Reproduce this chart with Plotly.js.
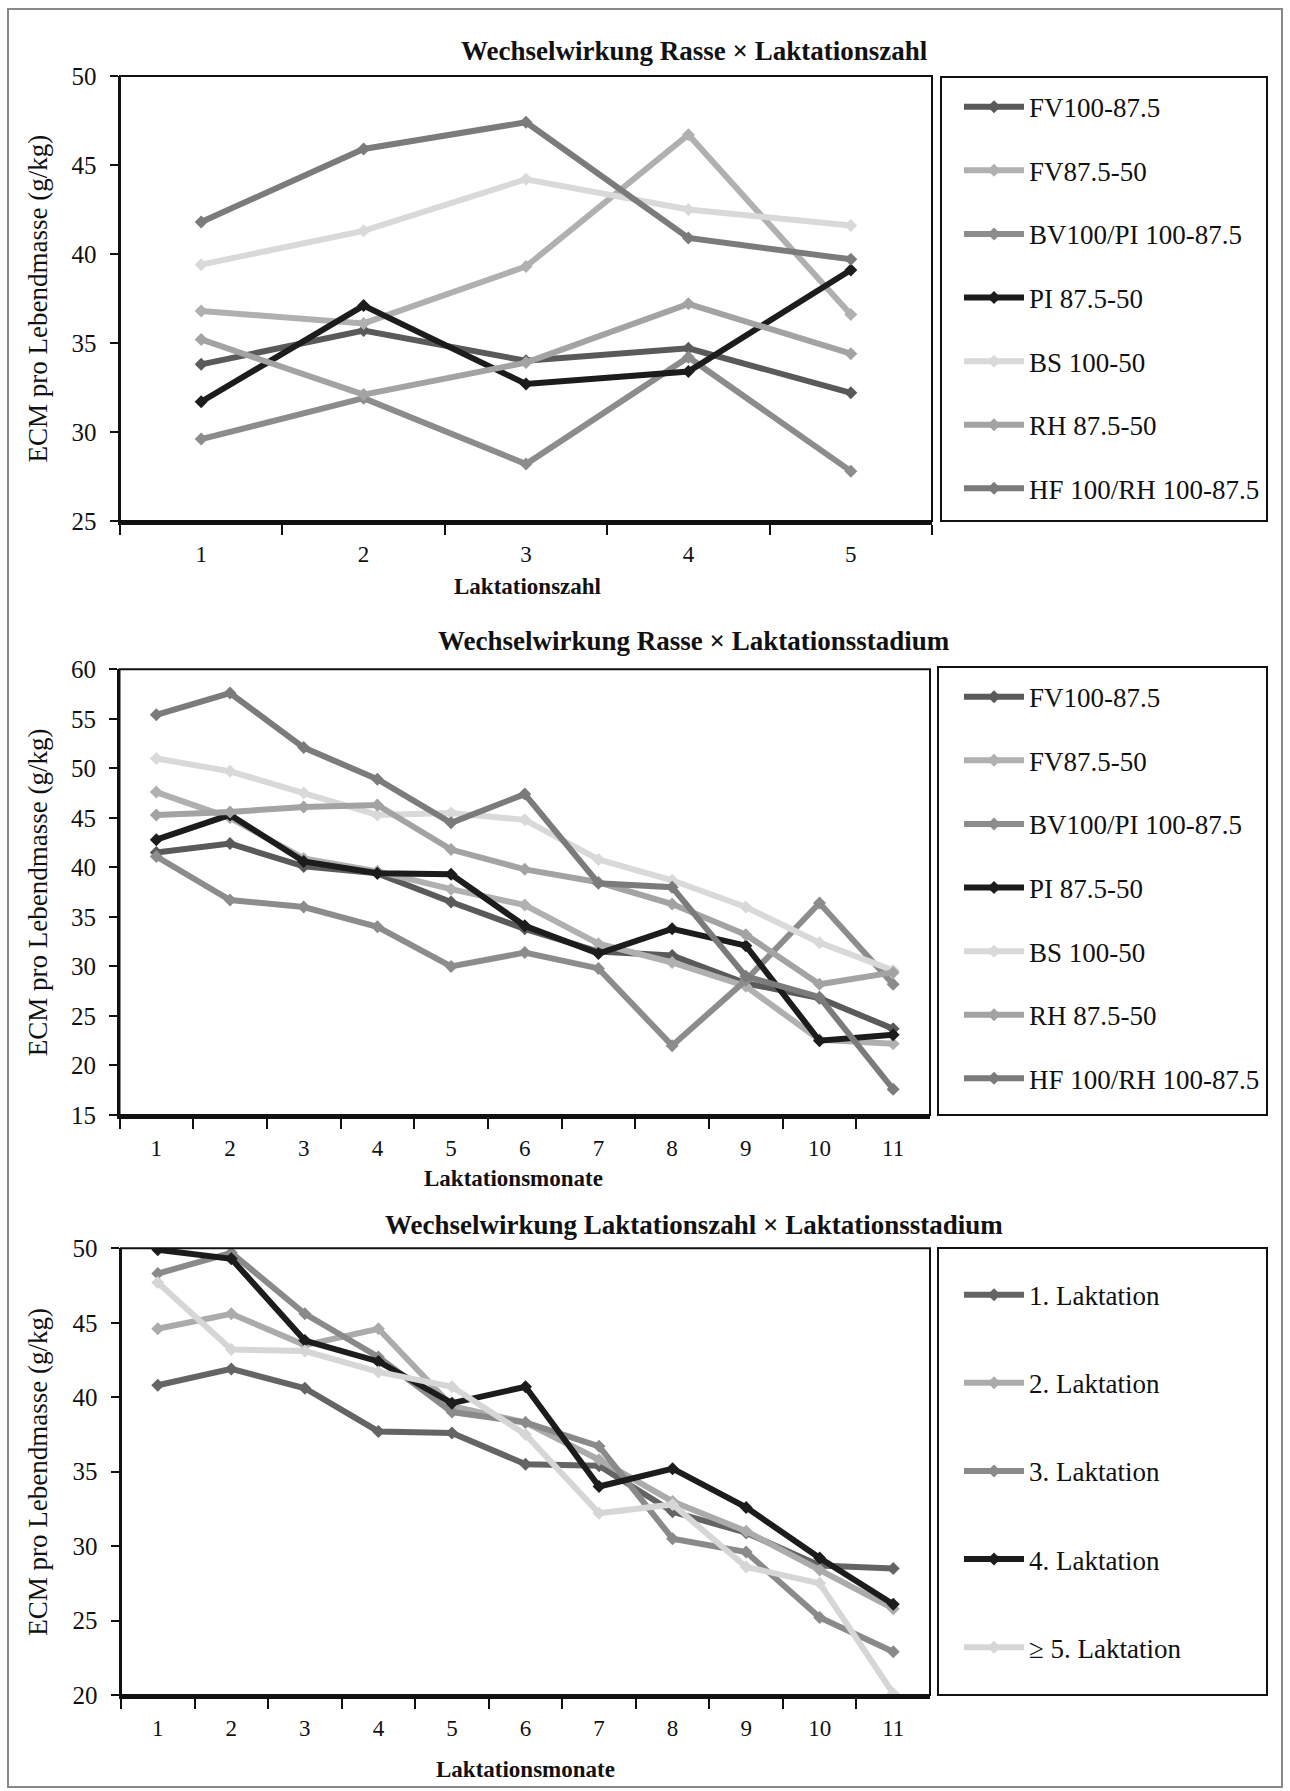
<!DOCTYPE html>
<html>
<head>
<meta charset="utf-8">
<script src="https://cdn.plot.ly/plotly-3.0.1.min.js"></script>
<style>
  html, body { margin: 0; padding: 0; background: #fff; }
  #chart { width: 1290px; height: 1791px; }
</style>
</head>
<body>
<div id="chart"></div>
<script>
// ---------------- DATA ----------------
// Chart 1: Wechselwirkung Rasse × Laktationszahl
const laktationszahl = ['1', '2', '3', '4', '5'];
const rasseNames = ['FV100-87.5', 'FV87.5-50', 'BV100/PI 100-87.5', 'PI 87.5-50', 'BS 100-50', 'RH 87.5-50', 'HF 100/RH 100-87.5'];
const rasseColors = ['#5a5a5a', '#b0b0b0', '#8c8c8c', '#1c1c1c', '#d9d9d9', '#a3a3a3', '#7b7b7b'];

const zahl_FV100 = [33.8, 35.7, 34.0, 34.7, 32.2];
const zahl_FV875 = [36.8, 36.1, 39.3, 46.7, 36.6];
const zahl_BV     = [29.6, 31.9, 28.2, 34.2, 27.8];
const zahl_PI     = [31.7, 37.1, 32.7, 33.4, 39.1];
const zahl_BS     = [39.4, 41.3, 44.2, 42.5, 41.6];
const zahl_RH     = [35.2, 32.1, 33.9, 37.2, 34.4];
const zahl_HF     = [41.8, 45.9, 47.4, 40.9, 39.7];

// Chart 2: Wechselwirkung Rasse × Laktationsstadium
const laktationsmonate = ['1', '2', '3', '4', '5', '6', '7', '8', '9', '10', '11'];
const stad_FV100 = [41.5, 42.4, 40.1, 39.4, 36.5, 33.8, 31.5, 31.1, 28.3, 26.8, 23.7];
const stad_FV875 = [47.6, 45.0, 40.9, 39.6, 37.8, 36.2, 32.3, 30.4, 28.0, 22.6, 22.2];
const stad_BV     = [41.1, 36.7, 36.0, 34.0, 30.0, 31.4, 29.8, 22.0, 28.6, 36.4, 28.2];
const stad_PI     = [42.8, 45.3, 40.6, 39.4, 39.3, 34.1, 31.3, 33.8, 32.1, 22.5, 23.1];
const stad_BS     = [51.0, 49.7, 47.5, 45.3, 45.5, 44.8, 40.8, 38.7, 36.0, 32.4, 29.6];
const stad_RH     = [45.3, 45.6, 46.1, 46.3, 41.8, 39.8, 38.5, 36.3, 33.2, 28.2, 29.4];
const stad_HF     = [55.4, 57.6, 52.1, 48.9, 44.5, 47.4, 38.4, 38.0, 29.0, 26.9, 17.6];

// Chart 3: Wechselwirkung Laktationszahl × Laktationsstadium
const laktNames = ['1. Laktation', '2. Laktation', '3. Laktation', '4. Laktation', '\u2265 5. Laktation'];
const laktColors = ['#646464', '#ababab', '#8a8a8a', '#1c1c1c', '#d6d6d6'];
const lakt1 = [40.8, 41.9, 40.6, 37.7, 37.6, 35.5, 35.4, 32.3, 30.9, 28.7, 28.5];
const lakt2 = [44.6, 45.6, 43.5, 44.6, 39.4, 38.3, 35.8, 33.0, 31.0, 28.4, 25.8];
const lakt3 = [48.3, 49.7, 45.6, 42.7, 39.0, 38.3, 36.7, 30.5, 29.6, 25.2, 22.9];
const lakt4 = [49.9, 49.3, 43.8, 42.4, 39.6, 40.7, 34.0, 35.2, 32.6, 29.2, 26.1];
const lakt5 = [47.7, 43.2, 43.1, 41.7, 40.7, 37.5, 32.2, 32.8, 28.6, 27.5, 20.1];

const titles = [
  'Wechselwirkung Rasse \u00d7 Laktationszahl',
  'Wechselwirkung Rasse \u00d7 Laktationsstadium',
  'Wechselwirkung Laktationszahl \u00d7 Laktationsstadium'
];
const xTitles = ['Laktationszahl', 'Laktationsmonate', 'Laktationsmonate'];
const yTitle = 'ECM pro Lebendmasse (g/kg)';

// ---------------- LAYOUT HELPERS ----------------
const W = 1290, H = 1791;
const px = v => v / W;
const py = v => 1 - v / H;
const FONT = 'Liberation Serif, Times New Roman, serif';
const INK = '#111111';

const plots = [
  { l: 120, r: 932, t: 76, b: 521, yr: [25, 50], cats: laktationszahl, titleY: 51, xTitleX: 527, xTitleY: 586,
    legBox: { l: 941, r: 1267, t: 77, b: 521 }, legTop: 82.7, gap: 25.5 },
  { l: 119.5, r: 930, t: 669.3, b: 1115, yr: [15, 60], cats: laktationsmonate, titleY: 641, xTitleX: 513, xTitleY: 1178,
    legBox: { l: 938, r: 1267, t: 667, b: 1115 }, legTop: 672.7, gap: 25.5 },
  { l: 121, r: 930, t: 1248.3, b: 1695, yr: [20, 50], cats: laktationsmonate, titleY: 1225, xTitleX: 525, xTitleY: 1769,
    legBox: { l: 938, r: 1267, t: 1248, b: 1695 }, legTop: 1270.7, gap: 50 }
];

const seriesSets = [
  { names: rasseNames, colors: rasseColors, data: [zahl_FV100, zahl_FV875, zahl_BV, zahl_PI, zahl_BS, zahl_RH, zahl_HF] },
  { names: rasseNames, colors: rasseColors, data: [stad_FV100, stad_FV875, stad_BV, stad_PI, stad_BS, stad_RH, stad_HF] },
  { names: laktNames, colors: laktColors, data: [lakt1, lakt2, lakt3, lakt4, lakt5] }
];

const traces = [];
const layout = {
  width: W, height: H,
  margin: { l: 0, r: 0, t: 0, b: 0 },
  paper_bgcolor: '#ffffff', plot_bgcolor: '#ffffff',
  font: { family: FONT, color: INK },
  showlegend: true,
  shapes: [], annotations: []
};

plots.forEach((p, i) => {
  const n = i + 1;
  const xa = n === 1 ? 'x' : 'x' + n;
  const ya = n === 1 ? 'y' : 'y' + n;
  const legName = n === 1 ? 'legend' : 'legend' + n;
  const set = seriesSets[i];

  set.data.forEach((vals, k) => {
    traces.push({
      type: 'scatter', mode: 'lines+markers',
      x: p.cats, y: vals, xaxis: xa, yaxis: ya,
      name: set.names[k], legend: legName, legendgroup: 'g' + n + '_' + k,
      line: { color: set.colors[k], width: 6 },
      marker: { symbol: 'diamond', size: 10, color: set.colors[k] },
      hoverinfo: 'x+y+name'
    });
  });

  layout['xaxis' + (n === 1 ? '' : n)] = {
    domain: [px(p.l), px(p.r)], anchor: ya,
    type: 'category', range: [-0.5, p.cats.length - 0.5],
    tickson: 'boundaries', ticks: 'outside', ticklen: 10, tickwidth: 2, tickcolor: INK,
    showline: true, linewidth: 4, linecolor: INK,
    showgrid: false, zeroline: false,
    tickfont: { family: FONT, size: 23, color: INK },
    ticklabelstandoff: 9, fixedrange: true
  };
  layout['yaxis' + (n === 1 ? '' : n)] = {
    domain: [py(p.b), py(p.t)], anchor: xa,
    range: p.yr, tick0: p.yr[0], dtick: 5,
    ticks: 'outside', ticklen: 8, tickwidth: 2, tickcolor: INK,
    showline: true, linewidth: 2.5, linecolor: INK,
    showgrid: false, zeroline: false,
    tickfont: { family: FONT, size: 25, color: INK },
    ticklabelstandoff: 8, fixedrange: true
  };

  // plot frame (top / right)
  layout.shapes.push({
    type: 'rect', xref: xa + ' domain', yref: ya + ' domain', x0: 0, x1: 1, y0: 0, y1: 1,
    line: { color: INK, width: 2 }, layer: 'above'
  });
  // legend box
  layout.shapes.push({
    type: 'rect', xref: 'paper', yref: 'paper',
    x0: px(p.legBox.l), x1: px(p.legBox.r), y0: py(p.legBox.b), y1: py(p.legBox.t),
    line: { color: INK, width: 2 }
  });

  layout[legName] = {
    x: px(959), y: py(p.legTop), xanchor: 'left', yanchor: 'top',
    bgcolor: 'rgba(0,0,0,0)', borderwidth: 0,
    font: { family: FONT, size: 27, color: INK },
    traceorder: 'grouped', tracegroupgap: p.gap, itemwidth: 60,
    itemclick: false, itemdoubleclick: false
  };

  // chart title
  layout.annotations.push({
    xref: 'paper', yref: 'paper', x: px(694), y: py(p.titleY), xanchor: 'center', yanchor: 'middle',
    text: '<b>' + titles[i] + '</b>', showarrow: false,
    font: { family: FONT, size: 27, color: INK }
  });
  // x title
  layout.annotations.push({
    xref: 'paper', yref: 'paper', x: px(p.xTitleX), y: py(p.xTitleY), xanchor: 'center', yanchor: 'middle',
    text: '<b>' + xTitles[i] + '</b>', showarrow: false,
    font: { family: FONT, size: 23, color: INK }
  });
  // y title
  layout.annotations.push({
    xref: 'paper', yref: 'paper', x: px(38), y: py((p.t + p.b) / 2), xanchor: 'center', yanchor: 'middle',
    text: yTitle, textangle: -90, showarrow: false,
    font: { family: FONT, size: 27, color: INK }
  });
});

// outer frame of the figure
layout.shapes.push({
  type: 'rect', xref: 'paper', yref: 'paper',
  x0: px(8), x1: px(1282), y0: py(1787), y1: py(9),
  line: { color: '#888888', width: 2 }
});

Plotly.newPlot('chart', traces, layout, { displayModeBar: false, staticPlot: true });
</script>
</body>
</html>
